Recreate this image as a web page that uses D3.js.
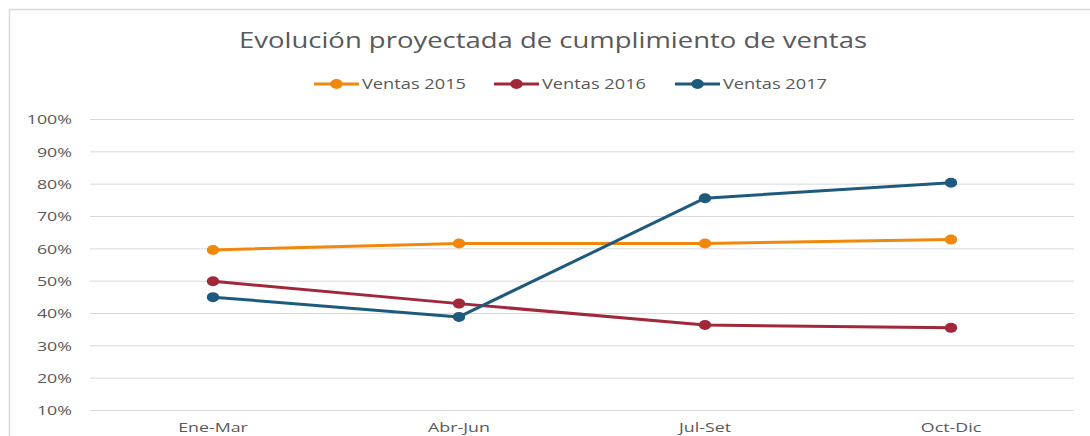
<!DOCTYPE html>
<html>
<head>
<meta charset="utf-8">
<script src="https://cdn.jsdelivr.net/npm/d3@7"></script>
<style>
  html, body { margin: 0; padding: 0; background: #fff; }
  svg { display: block; }
</style>
</head>
<body>
<svg id="chart" width="1090" height="436"></svg>
<script>
const categories = ["Ene-Mar", "Abr-Jun", "Jul-Set", "Oct-Dic"];
const seriesNames = ["Ventas 2015", "Ventas 2016", "Ventas 2017"];
const ventas2015 = [0.595, 0.615, 0.615, 0.627];
const ventas2016 = [0.498, 0.429, 0.363, 0.354];
const ventas2017 = [0.449, 0.388, 0.755, 0.803];
const yTicks = [0.1, 0.2, 0.3, 0.4, 0.5, 0.6, 0.7, 0.8, 0.9, 1.0];
const colors = ["#F0880C", "#A0283A", "#1E5A7D"];
const titleText = "Evolución proyectada de cumplimiento de ventas";

const series = [ventas2015, ventas2016, ventas2017];
const svg = d3.select("#chart");
const W = 1090, H = 436;
const stretch = 1.32;

// outer chart border (partially visible)
svg.append("rect").attr("x", 9.5).attr("y", 9.5).attr("width", W + 20).attr("height", H + 20)
  .attr("fill", "#fff").attr("stroke", "#d9d9d9").attr("stroke-width", 1.5);

const plot = {left: 90, right: 1074, top: 119, bottom: 410};
const x = d3.scaleBand().domain(categories).range([plot.left, plot.right]);
const y = d3.scaleLinear().domain([0.1, 1.0]).range([plot.bottom, plot.top]);

// gridlines + y labels
const yAxis = d3.axisLeft(y).tickValues(yTicks).tickFormat(d3.format(".0%"))
  .tickSize(-(plot.right - plot.left));
const gy = svg.append("g").attr("transform", `translate(${plot.left},0)`).call(yAxis);
gy.select(".domain").remove();
gy.selectAll(".tick line").attr("stroke", "#d9d9d9").attr("stroke-width", 1);
gy.selectAll(".tick text").attr("fill", "#595959").attr("font-family", "Open Sans, sans-serif")
  .attr("font-size", 13.5).attr("dy", "0.35em")
  .attr("x", -18 / stretch).attr("transform", `scale(${stretch},1)`);

// x axis labels
const xAxis = d3.axisBottom(x).tickSize(0);
const gx = svg.append("g").attr("transform", `translate(0,${plot.bottom})`).call(xAxis);
gx.select(".domain").remove();
gx.selectAll(".tick text").attr("fill", "#595959").attr("font-family", "Open Sans, sans-serif")
  .attr("font-size", 13.5).attr("x", 0).attr("y", 22).attr("dy", 0)
  .attr("transform", `scale(${stretch},1)`);

const cx = d => x(d) + x.bandwidth() / 2;
const line = d3.line().x((d, i) => cx(categories[i])).y(d => y(d));

series.forEach((s, k) => {
  svg.append("path").datum(s).attr("d", line).attr("fill", "none")
    .attr("stroke", colors[k]).attr("stroke-width", 3).attr("stroke-linejoin", "round");
});
series.forEach((s, k) => {
  svg.selectAll(null).data(s).enter().append("ellipse")
    .attr("cx", (d, i) => cx(categories[i])).attr("cy", d => y(d))
    .attr("rx", 6.2).attr("ry", 5).attr("fill", colors[k]);
});

// title
svg.append("text").attr("x", 553).attr("y", 48).attr("text-anchor", "middle")
  .attr("font-family", "Open Sans, sans-serif").attr("font-size", 22).attr("fill", "#595959")
  .attr("textLength", 628).attr("lengthAdjust", "spacingAndGlyphs")
  .text(titleText);

// legend
const legendX = [314, 494, 675];
seriesNames.forEach((name, k) => {
  const g = svg.append("g").attr("transform", `translate(${legendX[k]},84)`);
  g.append("line").attr("x1", 0).attr("x2", 45).attr("y1", 0).attr("y2", 0)
    .attr("stroke", colors[k]).attr("stroke-width", 3);
  g.append("ellipse").attr("cx", 22.5).attr("cy", 0).attr("rx", 6.2).attr("ry", 5).attr("fill", colors[k]);
  g.append("text").attr("x", 48).attr("y", 5).attr("font-family", "Open Sans, sans-serif")
    .attr("font-size", 14).attr("fill", "#595959")
    .attr("textLength", 104).attr("lengthAdjust", "spacingAndGlyphs").text(name);
});
</script>
</body>
</html>
